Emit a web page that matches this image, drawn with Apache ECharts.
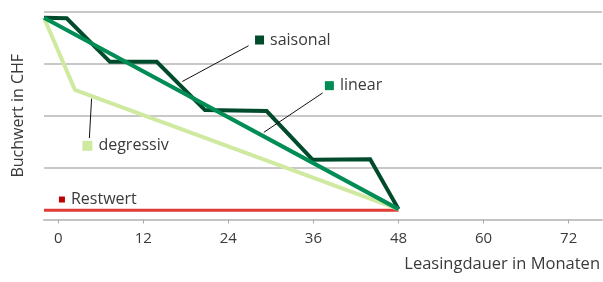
<!DOCTYPE html>
<html>
<head>
<meta charset="utf-8">
<script src="https://cdn.jsdelivr.net/npm/echarts@6/dist/echarts.min.js"></script>
<style>
  html, body { margin: 0; padding: 0; background: #fff; }
  #chart { width: 603px; height: 282px; }
</style>
</head>
<body>
<div id="chart"></div>
<script>
// Leasing: Buchwertverlauf
var tickMonths = [0, 12, 24, 36, 48, 60, 72];

var saisonalMonths = [-2, 1.2, 7.3, 13.9, 20.7, 29.4, 35.9, 44, 48];
var saisonalValues = [3.89, 3.88, 3.04, 3.04, 2.11, 2.09, 1.15, 1.16, 0.2];

var linearMonths = [-2, 48];
var linearValues = [3.89, 0.2];

var degressivMonths = [-2, 2.35, 48];
var degressivValues = [3.89, 2.5, 0.2];

var restwertMonths = [-2, 48];
var restwertValues = [0.18, 0.18];

// Beschriftungen: [Monat, Wert] des Quadrats, Hinweislinie von/bis
var labelNames = ['saisonal', 'linear', 'degressiv', 'Restwert'];
var labelPos = [[28.4, 3.46], [38.25, 2.58], [4.12, 1.42], [0.53, 0.385]];
var leaderLines = [
  [[26.85, 3.35], [17.5, 2.66]],
  [[37.3, 2.44], [29.0, 1.68]],
  [[4.4, 1.57], [4.71, 2.33]]
];

var colors = {
  saisonal: '#004b2c',
  linear: '#008c55',
  degressiv: '#cfe9a0',
  restwert: '#e03a36',
  restwertBox: '#c00000'
};
var boxColors = [colors.saisonal, colors.linear, colors.degressiv, colors.restwertBox];
var boxSizes = [9, 9, 10, 6];

function pairs(xs, ys) {
  var out = [];
  for (var i = 0; i < xs.length; i++) out.push([xs[i], ys[i]]);
  return out;
}

var font = '"Open Sans", "Noto Sans", sans-serif';
var textColor = '#3a3a3a';

var series = [];
series.push({ name: 'Restwert', type: 'line', data: pairs(restwertMonths, restwertValues),
  symbol: 'none', lineStyle: { color: colors.restwert, width: 3 }, z: 2 });
series.push({ name: 'degressiv', type: 'line', data: pairs(degressivMonths, degressivValues),
  symbol: 'none', lineStyle: { color: colors.degressiv, width: 4 }, z: 3 });
series.push({ name: 'saisonal', type: 'line', data: pairs(saisonalMonths, saisonalValues),
  symbol: 'none', lineStyle: { color: colors.saisonal, width: 4, join: 'miter' }, z: 4 });
series.push({ name: 'linear', type: 'line', data: pairs(linearMonths, linearValues),
  symbol: 'none', lineStyle: { color: colors.linear, width: 4 }, z: 5 });

for (var i = 0; i < leaderLines.length; i++) {
  series.push({ type: 'line', data: leaderLines[i], symbol: 'none', silent: true,
    lineStyle: { color: '#111', width: 1 }, z: 6 });
}

for (var j = 0; j < labelNames.length; j++) {
  series.push({
    type: 'scatter', data: [labelPos[j]], symbol: 'rect', symbolSize: boxSizes[j], silent: true,
    itemStyle: { color: boxColors[j], opacity: 1 }, z: 7,
    label: { show: true, position: 'right', distance: 6, formatter: labelNames[j],
      color: textColor, fontSize: 16, fontFamily: font }
  });
}

var myChart = echarts.init(document.getElementById('chart'));
var option = {
  animation: false,
  grid: { left: 44, right: 0, top: 12, bottom: 62.5 },
  xAxis: {
    type: 'value', min: -2, max: 76.7,
    splitLine: { show: false },
    axisLine: { lineStyle: { color: '#c4c4c4', width: 2 } },
    axisTick: { customValues: tickMonths, length: 4, lineStyle: { color: '#aaa' } },
    axisLabel: { customValues: tickMonths, margin: 12, fontSize: 15, color: textColor, fontFamily: font },
    name: 'Leasingdauer in Monaten', nameLocation: 'end', nameGap: -2,
    nameTextStyle: { align: 'right', verticalAlign: 'top', padding: [36, 0, 0, 0],
      fontSize: 16.5, color: textColor, fontFamily: font }
  },
  yAxis: {
    type: 'value', min: 0, max: 4, interval: 1,
    axisLabel: { show: false }, axisTick: { show: false }, axisLine: { show: false },
    splitLine: { lineStyle: { color: '#c8c8c8', width: 2 } },
    name: 'Buchwert in CHF', nameLocation: 'middle', nameGap: 18, nameRotate: 90,
    nameTextStyle: { fontSize: 16, color: textColor, fontFamily: font }
  },
  series: series
};
myChart.setOption(option);
</script>
</body>
</html>
